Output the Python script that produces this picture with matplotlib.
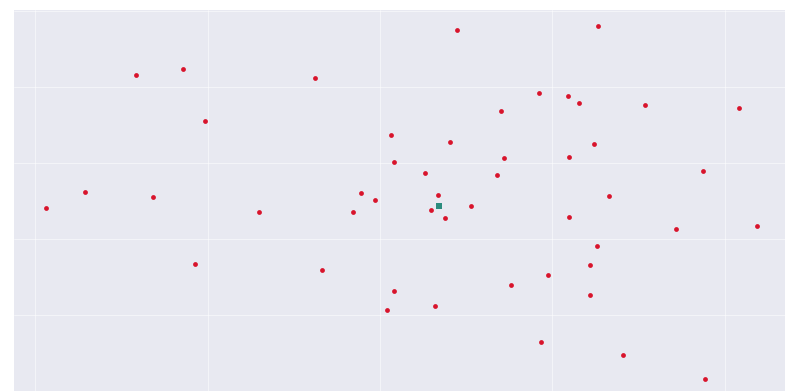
import numpy as np
import matplotlib
matplotlib.use("Agg")
import matplotlib.pyplot as plt
import seaborn as sns

# points
x_pts = [2.446, 3.264, 0.586, 0.858, 1.623, 2.922, 3.090, 3.154, 3.536, 4.081,
         2.701, 0.986, 2.064, 2.406, 3.241, 2.081, 2.719, 3.096, 2.261, 2.678,
         3.872, 0.290, 0.684, 1.890, 2.336, 1.971, 3.328, 0.064, 2.528, 2.296,
         1.843, 1.299, 2.377, 3.096, 3.716, 4.186, 3.258, 0.928, 3.217, 1.664,
         2.974, 2.759, 2.081, 3.217, 2.319, 2.041, 2.933, 3.409, 3.884]
y_pts = [4.75, 4.80, 4.16, 4.24, 4.11, 3.92, 3.88, 3.79, 3.76, 3.72,
         3.68, 3.55, 3.36, 3.28, 3.25, 3.01, 3.07, 3.08, 2.87, 2.84,
         2.89, 2.62, 2.55, 2.61, 2.58, 2.51, 2.57, 2.41, 2.43, 2.38,
         2.36, 2.36, 2.28, 2.29, 2.13, 2.17, 1.91, 1.67, 1.66, 1.59,
         1.53, 1.39, 1.32, 1.26, 1.12, 1.07, 0.64, 0.47, 0.16]

center_x = [2.342]
center_y = [2.43]

sns.set_style("darkgrid")

fig = plt.figure(figsize=(7.95, 3.91), dpi=100)
ax = fig.add_axes([14 / 795, 0, 771 / 795, 381 / 391])
ax.set_facecolor("#e8e9f1")
ax.grid(True, color="white", linewidth=0.6, alpha=0.6)

ax.scatter(x_pts, y_pts, s=12, c="#d8142c", zorder=3, linewidths=0)
ax.scatter(center_x, center_y, s=24, c="#2b8c7e", marker="s", zorder=4, linewidths=0)

ax.set_xlim(-0.122, 4.348)
ax.set_ylim(0, 5.01)
ax.set_xticks([0, 1, 2, 3, 4])
ax.set_yticks([0, 1, 2, 3, 4, 5])
ax.set_xticklabels([])
ax.set_yticklabels([])
ax.tick_params(length=0)
for s in ax.spines.values():
    s.set_visible(False)

fig.savefig("out.png", dpi=100)
